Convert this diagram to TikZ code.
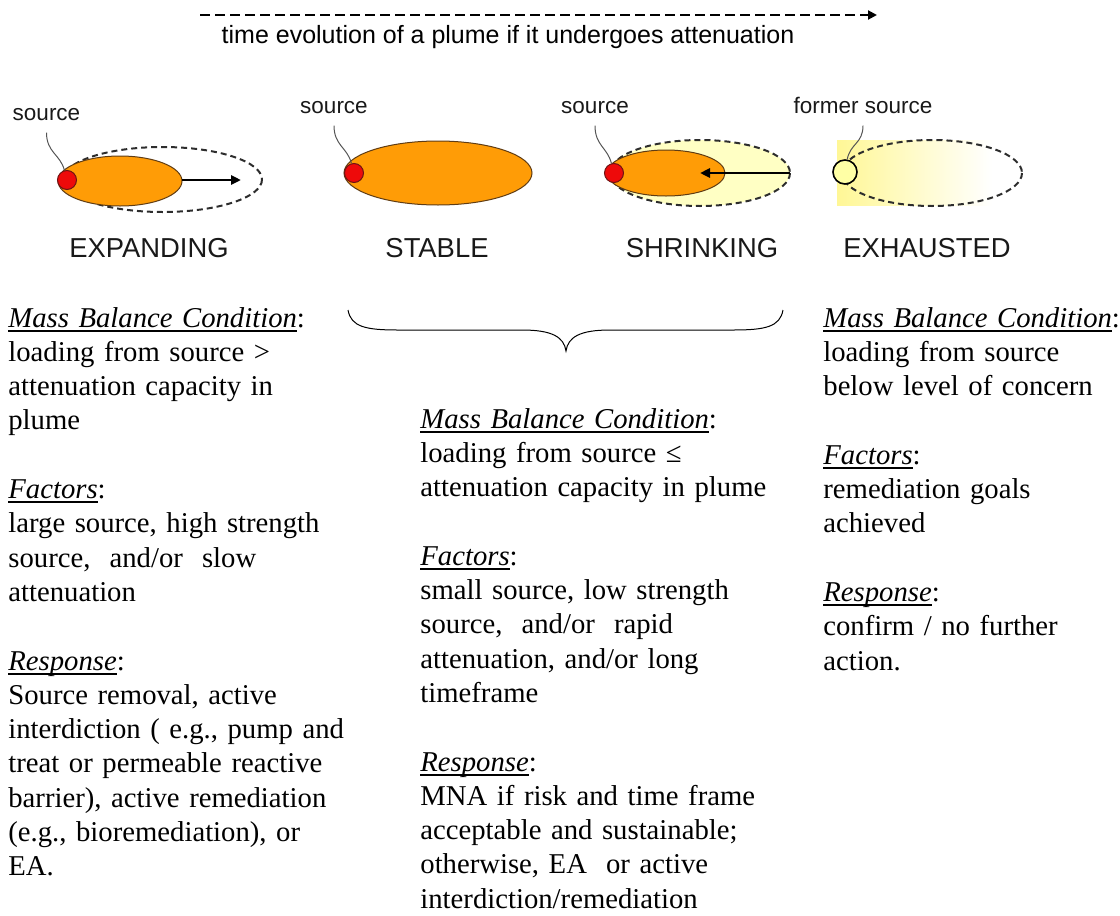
\documentclass[tikz,border=0pt]{standalone}
\usepackage{fontspec}
\setmainfont{Liberation Serif}
\newfontfamily\plumesans{Liberation Sans}
\usetikzlibrary{arrows.meta}

\definecolor{plumeorange}{RGB}{255,156,6}
\definecolor{plumeedge}{RGB}{95,60,20}
\definecolor{srcred}{RGB}{238,10,10}
\definecolor{srcedge}{RGB}{110,20,20}
\definecolor{paleplume}{RGB}{255,255,196}
\definecolor{fadeyellow}{RGB}{255,247,150}
\definecolor{formerfill}{RGB}{255,255,165}
\definecolor{ringgray}{RGB}{45,45,45}
\definecolor{leadergray}{RGB}{85,85,85}
\definecolor{labelink}{RGB}{25,25,25}

% italic heading with a word-processor style underline
\newcommand\headline[1]{\leavevmode\setbox0\hbox{\textit{#1}}%
  \rlap{\rule[-2.3pt]{\wd0}{0.85pt}}\box0}

\begin{document}
\begin{tikzpicture}[
  x=0.5pt, y=-0.5pt,
  timeline/.style={draw=black, line width=1pt, dash pattern=on 5pt off 2.5pt,
    -{Triangle[length=4.5pt,width=4.5pt]}},
  titletext/.style={font=\plumesans\fontsize{12.5}{15}\selectfont, inner sep=0pt},
  statelabel/.style={font=\plumesans\fontsize{13.7}{16}\selectfont, text=labelink, inner sep=0pt},
  srclabel/.style={font=\plumesans\fontsize{11.25}{13}\selectfont, text=labelink, inner sep=1pt},
  plumebody/.style={fill=plumeorange, draw=plumeedge, line width=0.5pt},
  dashedring/.style={draw=ringgray, line width=1pt, dash pattern=on 3pt off 2pt},
  srcdot/.style={circle, fill=srcred, draw=srcedge, line width=0.5pt, minimum size=9.5pt, inner sep=0pt},
  formerdot/.style={circle, fill=formerfill, draw=black, line width=0.8pt, minimum size=12pt, inner sep=0pt},
  leader/.style={draw=leadergray, line width=0.5pt},
  motion/.style={draw=black, line width=1.3pt, -{Triangle[length=5pt,width=4.5pt]}},
  column/.style={anchor=base west, inner sep=0pt, align=left,
    font=\fontsize{14.35}{17.15}\selectfont},
  brace/.style={draw=black, line width=0.5pt}
]
\useasboundingbox (0,0) rectangle (1120,916);

% ---- time axis ----
\coordinate (tstart) at (200,15);
\coordinate (tend) at (877,15);
\draw[timeline] (tstart) -- (tend);
\node[titletext, anchor=base] (title) at (508,43)
  {time evolution of a plume if it undergoes attenuation};

% ---- expanding plume ----
\draw[dashedring] (162.5,179.5) ellipse [x radius=99.5, y radius=32.5];
\filldraw[plumebody] (120,181) ellipse [x radius=62, y radius=25];
\node[srcdot] (s1) at (67,180) {};
\coordinate (grow0) at (182,180);
\coordinate (grow1) at (241,180);
\draw[motion] (grow0) -- (grow1);
\node[srclabel, anchor=base] (l1) at (46.5,120) {source};
\draw[leader] ([yshift=-5pt]l1.south) .. controls +(0,20) and +(-4,-16) .. (s1.105);
\node[statelabel, anchor=base] (n1) at (149,257) {EXPANDING};

% ---- stable plume ----
\filldraw[plumebody] (438,173) ellipse [x radius=94, y radius=32];
\node[srcdot] (s2) at (354,173) {};
\node[srclabel, anchor=base] (l2) at (334,113) {source};
\draw[leader] ([yshift=-5pt]l2.south) .. controls +(0,20) and +(-4,-16) .. (s2.105);
\node[statelabel, anchor=base] (n2) at (437,257) {STABLE};

% ---- shrinking plume ----
\filldraw[fill=paleplume, dashedring] (700,173) ellipse [x radius=90, y radius=33];
\filldraw[plumebody] (666,173) ellipse [x radius=59, y radius=23];
\node[srcdot] (s3) at (614,173) {};
\coordinate (back0) at (790,173);
\coordinate (back1) at (700,173);
\draw[motion] (back0) -- (back1);
\node[srclabel, anchor=base] (l3) at (595,113) {source};
\draw[leader] ([yshift=-5pt]l3.south) .. controls +(0,20) and +(-4,-16) .. (s3.105);
\node[statelabel, anchor=base] (n3) at (702,257) {SHRINKING};

% ---- exhausted plume ----
\shade[left color=fadeyellow, right color=white] (837,140) rectangle (992,205);
\draw[dashedring] (932,173) ellipse [x radius=90, y radius=33];
\node[formerdot] (s4) at (845,172) {};
\node[srclabel, anchor=base] (l4) at (863,113) {former source};
\draw[leader] ([yshift=-5pt]l4.south) .. controls +(0,18) and +(3,-16) .. (s4.80);
\node[statelabel, anchor=base] (n4) at (927,257) {EXHAUSTED};

% ---- brace over the stable and shrinking cases ----
\coordinate (braceL) at (348,310);
\coordinate (braceR) at (783,310);
\coordinate (braceTip) at (566,351);
\draw[brace] (braceL) .. controls (351,327) and (366,330) .. (398,330)
  -- (522,330) .. controls (552,330) and (564,337) .. (braceTip)
  .. controls (568,337) and (580,330) .. (610,330)
  -- (733,330) .. controls (765,330) and (780,327) .. (braceR);

% ---- text columns ----
\node[column, text width=180pt] (colA) at (8,327) {%
\headline{Mass Balance Condition}:\\
loading from source >\\
attenuation capacity in\\
plume\\[17.15pt]
\headline{Factors}:\\
large source, high strength\\
source,~ and/or~ slow\\
attenuation\\[17.15pt]
\headline{Response}:\\
Source removal, active\\
interdiction ( e.g., pump and\\
treat or permeable reactive\\
barrier), active remediation\\
(e.g., bioremediation), or\\
EA.};

\node[column, text width=180pt] (colB) at (420,428) {%
\headline{Mass Balance Condition}:\\
loading from source ≤\\
attenuation capacity in plume\\[17.15pt]
\headline{Factors}:\\
small source, low strength\\
source,~ and/or~ rapid\\
attenuation, and/or long\\
timeframe\\[17.15pt]
\headline{Response}:\\
MNA if risk and time frame\\
acceptable and sustainable;\\
otherwise, EA~ or active\\
interdiction/remediation};

\node[column, text width=150pt] (colC) at (823,327) {%
\headline{Mass Balance Condition}:\\
loading from source\\
below level of concern\\[17.15pt]
\headline{Factors}:\\
remediation goals\\
achieved\\[17.15pt]
\headline{Response}:\\
confirm / no further\\
action.};
\end{tikzpicture}
\end{document}
